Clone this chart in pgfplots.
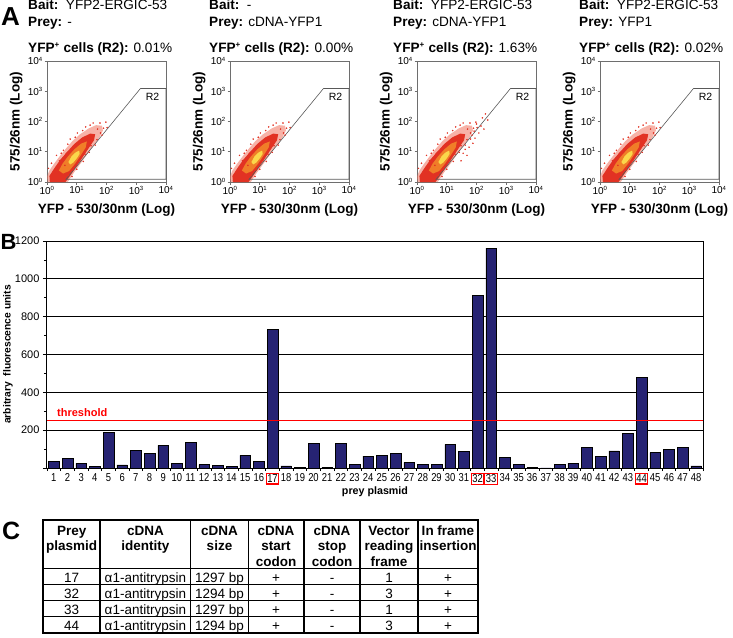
\documentclass[border=0pt]{standalone}
\usepackage{fontspec}
\setmainfont{Liberation Sans}
\usepackage{graphicx}
\usepackage{pgfplots}
\pgfplotsset{compat=1.18}
\usepackage{pgfplotstable}

\definecolor{barblue}{RGB}{38,35,115}
\definecolor{cloudout}{RGB}{240,115,95}
\definecolor{cloudmid}{RGB}{226,50,35}
\definecolor{cloudor}{RGB}{240,125,40}
\definecolor{cloudye}{RGB}{250,215,75}
\definecolor{framegray}{RGB}{110,110,110}

\newcommand\fs[2]{\fontsize{#1}{#2}\selectfont}
\newcommand\sx[1]{\scalebox{0.82}[1]{#1}}
\setlength{\fboxsep}{0.6pt}
\setlength{\fboxrule}{1.1pt}
\newcommand\rb[1]{\fcolorbox{red}{white}{\sx{#1}}}
\newcommand\tp[1]{10\textsuperscript{\fs{6}{6}#1}}

\pgfplotstableread{
x y
1 35
2 49
3 25
4 7
5 189
6 16
7 92
8 76
9 120
10 25
11 137
12 18
13 12
14 7
15 67
16 35
17 733
18 11
19 4
20 129
21 3
22 130
23 18
24 63
25 67
26 79
27 30
28 18
29 21
30 125
31 86
32 914
33 1163
34 56
35 21
36 2
37 1
38 21
39 25
40 107
41 63
42 90
43 185
44 477
45 81
46 99
47 111
48 11
}\bardata

\pgfplotstableread{
x y
0.02 0.00
0.00 0.18
0.08 0.38
0.25 0.62
0.45 0.88
0.65 1.12
0.85 1.35
1.10 1.57
1.40 1.77
1.65 1.88
1.85 1.86
1.88 1.70
1.75 1.45
1.52 1.15
1.32 0.88
1.12 0.60
0.92 0.33
0.78 0.12
0.70 0.00
}\cloudout

\pgfplotstableread{
x y
0.10 0.00
0.08 0.20
0.25 0.46
0.45 0.74
0.68 1.00
0.92 1.26
1.18 1.47
1.45 1.60
1.62 1.58
1.58 1.38
1.36 1.06
1.15 0.75
0.95 0.46
0.76 0.18
0.62 0.00
}\cloudmid

\pgfplotstableread{
x y
0.40 0.38
0.52 0.60
0.70 0.84
0.92 1.08
1.15 1.27
1.34 1.34
1.30 1.14
1.12 0.86
0.94 0.60
0.74 0.36
0.54 0.28
}\cloudor

\pgfplotstableread{
x y
0.72 0.66
0.82 0.84
0.95 0.97
1.08 1.04
1.10 0.93
1.00 0.78
0.88 0.64
0.78 0.58
}\cloudye

\pgfplotstableread{
x y
0.05 0.45
0.15 0.62
0.32 0.88
0.55 1.05
0.78 1.42
1.02 1.62
1.30 1.82
1.55 1.95
1.98 1.98
2.02 1.80
1.85 1.55
1.62 1.22
1.42 0.98
1.22 0.68
1.00 0.42
0.84 0.18
0.38 0.12
0.20 0.30
1.70 1.75
0.60 0.55
0.12 0.05
0.28 0.40
0.48 0.95
0.70 1.25
0.95 1.48
1.20 1.70
1.45 1.88
1.78 1.95
1.90 1.78
1.80 1.62
1.68 1.40
1.48 1.20
1.28 0.92
1.10 0.72
0.88 0.40
0.72 0.22
0.60 0.05
0.42 0.70
0.65 0.95
1.15 1.40
}\scatbase

\pgfplotstableread{
x y
1.55 0.95
1.75 1.15
1.95 1.45
2.15 1.85
2.30 2.25
1.88 1.28
2.08 1.62
1.68 0.88
1.48 0.70
2.38 2.05
2.20 2.12
1.80 1.42
2.00 1.92
1.62 1.08
1.92 1.68
2.25 1.75
}\scatextra

\pgfplotsset{
 flowax/.style={
  scale only axis, width=119pt, height=121pt,
  xmin=0, xmax=4, ymin=0, ymax=4, clip=false,
  xtick={0,1,2,3,4}, ytick={0,1,2,3,4},
  xticklabels={\tp{0},\tp{1},\tp{2},\tp{3},\tp{4}},
  yticklabels={\tp{0},\tp{1},\tp{2},\tp{3},\tp{4}},
  tick align=outside, major tick length=2.5pt, tick pos=left,
  tick style={framegray, line width=0.6pt},
  axis line style={framegray, line width=0.8pt},
  ticklabel style={font=\fs{10}{10}, inner sep=1.5pt},
  xlabel={YFP - 530/30nm (Log)}, ylabel={575/26nm (Log)},
  label style={font=\fs{13.5}{14}\bfseries},
  xlabel style={at={(rel axis cs:0.5,0)}, anchor=base, yshift=-31pt},
  ylabel style={at={(rel axis cs:-0.26,0.5)}, anchor=center},
 },
}

\newcommand\cloud{%
  \addplot[fill=cloudout, draw=none, fill opacity=0.55] table {\cloudout} -- cycle;
  \addplot[fill=cloudmid, draw=none] table {\cloudmid} -- cycle;
  \addplot[fill=cloudor, draw=none] table {\cloudor} -- cycle;
  \addplot[fill=cloudye, draw=none] table {\cloudye} -- cycle;
  \addplot[only marks, mark=*, mark size=0.55pt, color=cloudmid] table {\scatbase};
}
\newcommand\gate{%
  \addplot[black!65, line width=0.6pt, mark=none] coordinates {(0.64,0.09) (3.14,3.09) (4,3.09) (4,0.09)} -- cycle;
  \node[font=\fs{10.5}{11}] at (axis cs:3.55,2.82) {R2};
}
\newcommand\flowtext[4]{%
  \node[anchor=base west, inner sep=0, font=\fs{13.6}{14}] at (#1pt,-9.5pt) {\textbf{Bait:}\ \ #2};
  \node[anchor=base west, inner sep=0, font=\fs{13.6}{14}] at (#1pt,-26pt) {\textbf{Prey:} #3};
  \node[anchor=base west, inner sep=0, font=\fs{13.6}{14}] at (#1pt,-52.5pt) {\textbf{YFP\textsuperscript{\fs{8}{8}+} cells (R2):} #4};
}
\newcommand\hcell[4]{%
  \node[anchor=base, inner sep=0, font=\fs{13.5}{14}\bfseries] at (#1pt,-535pt) {#2};
  \node[anchor=base, inner sep=0, font=\fs{13.5}{14}\bfseries] at (#1pt,-550.5pt) {#3};
  \node[anchor=base, inner sep=0, font=\fs{13.5}{14}\bfseries] at (#1pt,-566pt) {#4};
}
\newcommand\drow[8]{%
  \foreach \cx/\ct in {71.7/#2,145.4/#3,219.5/#4,276/#5,332/#6,389/#7,448/#8}
    {\node[anchor=base, inner sep=0, font=\fs{13.5}{14}] at (\cx pt,-#1pt) {\ct};}
}

\begin{document}
\begin{tikzpicture}
\useasboundingbox (0,0) rectangle (733pt,-637pt);

% panel letters
\node[anchor=base west, inner sep=0, font=\fs{26}{26}\bfseries] at (1pt,-25pt) {A};
\node[anchor=base west, inner sep=0, font=\fs{22}{22}\bfseries] at (0.5pt,-249pt) {B};
\node[anchor=base west, inner sep=0, font=\fs{25}{25}\bfseries] at (2pt,-539pt) {C};

% panel A texts
\flowtext{28}{YFP2-ERGIC-53}{-}{0.01\%}
\flowtext{209}{-}{cDNA-YFP1}{0.00\%}
\flowtext{393}{YFP2-ERGIC-53}{cDNA-YFP1}{1.63\%}
\flowtext{579}{YFP2-ERGIC-53}{YFP1}{0.02\%}

\begin{axis}[flowax, at={(47pt,-182pt)}, anchor=south west]
\cloud
\gate
\end{axis}
\begin{axis}[flowax, at={(230pt,-182pt)}, anchor=south west]
\cloud
\gate
\end{axis}
\begin{axis}[flowax, at={(417pt,-182pt)}, anchor=south west]
\cloud
\addplot[only marks, mark=*, mark size=0.55pt, color=cloudmid] table {\scatextra};
\gate
\end{axis}
\begin{axis}[flowax, at={(600pt,-182pt)}, anchor=south west]
\cloud
\gate
\end{axis}

% panel B
\begin{axis}[at={(47pt,-468pt)}, anchor=south west, scale only axis,
  width=656pt, height=227pt,
  xmin=0.5, xmax=48.5, ymin=0, ymax=1200,
  ybar, bar width=0.78, bar shift=0pt,
  ytick={0,200,400,600,800,1000,1200},
  yticklabels={,200,400,600,800,1000,1200},
  minor ytick={100,300,500,700,900,1100},
  ymajorgrids, grid style={black, line width=0.9pt},
  xtick={1,...,48},
  xticklabels={\sx{1},\sx{2},\sx{3},\sx{4},\sx{5},\sx{6},\sx{7},\sx{8},\sx{9},\sx{10},\sx{11},\sx{12},\sx{13},\sx{14},\sx{15},\sx{16},\rb{17},\sx{18},\sx{19},\sx{20},\sx{21},\sx{22},\sx{23},\sx{24},\sx{25},\sx{26},\sx{27},\sx{28},\sx{29},\sx{30},\sx{31},\rb{32},\rb{33},\sx{34},\sx{35},\sx{36},\sx{37},\sx{38},\sx{39},\sx{40},\sx{41},\sx{42},\sx{43},\rb{44},\sx{45},\sx{46},\sx{47},\sx{48}},
  minor xtick={0.5,1.5,...,48.5},
  major x tick style={draw=none},
  tick align=outside, tick pos=left,
  major tick length=4pt, minor tick length=3pt,
  tick style={black, line width=0.7pt},
  axis line style={black, line width=1pt},
  yticklabel style={font=\fs{11}{11}},
  xticklabel style={font=\fs{11.5}{12}, inner sep=1pt},
  xlabel={prey plasmid},
  xlabel style={font=\fs{10.7}{11}\bfseries, at={(rel axis cs:0.5,0)}, anchor=base, yshift=-26pt},
  ylabel={arbitrary\ \ fluorescence units},
  ylabel style={font=\fs{10.3}{11}\bfseries, at={(rel axis cs:-0.0595,0.5)}, anchor=center},
]
\addplot[fill=barblue, draw=black, line width=0.6pt] table {\bardata};
\draw[red, line width=0.9pt] (axis cs:0.5,250) -- (axis cs:48.5,250);
\node[red, anchor=base west, inner sep=0, font=\fs{11}{11}\bfseries] at (axis cs:1.23,271) {threshold};
\end{axis}

% panel C table
\draw[line width=1.8pt] (43.3pt,-520pt) rectangle (478pt,-632.8pt);
\draw[line width=1.6pt] (43.3pt,-568.3pt) -- (478pt,-568.3pt);
\foreach \yy in {584.5,600.6,616.7} {\draw[line width=1.1pt] (43.3pt,-\yy pt) -- (478pt,-\yy pt);}
\foreach \xx in {100,190.7,248.3,304,360,418} {\draw[line width=1.2pt] (\xx pt,-520pt) -- (\xx pt,-632.8pt);}
\hcell{71.7}{Prey}{plasmid}{}
\hcell{145.4}{cDNA}{identity}{}
\hcell{219.5}{cDNA}{size}{}
\hcell{276}{cDNA}{start}{codon}
\hcell{332}{cDNA}{stop}{codon}
\hcell{389}{Vector}{reading}{frame}
\hcell{448}{In frame}{insertion}{}
\drow{582}{17}{α1-antitrypsin}{1297 bp}{+}{-}{1}{+}
\drow{598}{32}{α1-antitrypsin}{1294 bp}{+}{-}{3}{+}
\drow{614}{33}{α1-antitrypsin}{1297 bp}{+}{-}{1}{+}
\drow{630}{44}{α1-antitrypsin}{1294 bp}{+}{-}{3}{+}
\end{tikzpicture}
\end{document}
